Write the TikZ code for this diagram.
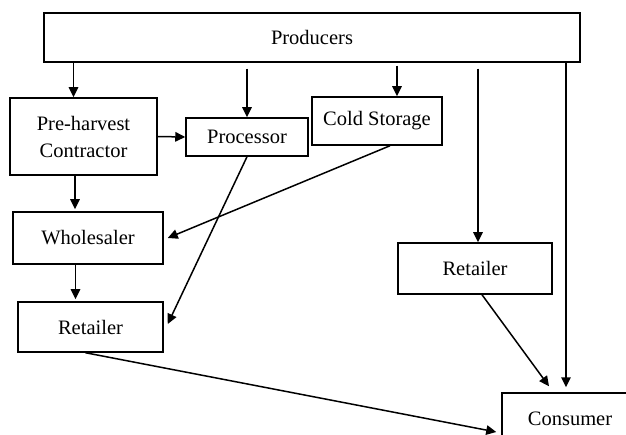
\documentclass[tikz,border=0pt]{standalone}
\usepackage{fontspec}
\setmainfont{Liberation Serif}
\usepackage{tikz}
\usetikzlibrary{arrows.meta}

\begin{document}
\begin{tikzpicture}[x=1pt, y=-1pt,
		box/.style={draw, line width=1.5pt, rectangle, inner sep=0pt, align=center, font=\fontsize{20.5}{27}\selectfont},
		flow/.style={line width=1.5pt, -{Triangle[length=10pt, width=9.5pt]}}]
		%%%%% START %%%%%
		
		\useasboundingbox (0, 0) rectangle (626, 435);
		
		\node[box, minimum width=536pt, minimum height=49pt] (prod) at (312, 37.5) {Producers};
		
		\node[box, minimum width=147pt, minimum height=77pt] (pre) at (83.5, 136.5) {Pre-harvest\\Contractor};
		\node[box, minimum width=122pt, minimum height=38pt] (proc) at (247, 137) {Processor};
		\node[box, minimum width=130pt, minimum height=48pt] (cold) at (377, 121) {Cold Storage};
		
		\node[box, minimum width=150pt, minimum height=52pt] (whole) at (88, 238) {Wholesaler};
		\node[box, minimum width=145pt, minimum height=50pt] (retL) at (90.5, 327) {Retailer};
		
		\node[box, minimum width=154pt, minimum height=51pt] (retR) at (475, 268.5) {Retailer};
		\node[box, minimum width=136pt, minimum height=52pt] (cons) at (570, 419) {Consumer};
		
		% from producers
		\draw[flow] ([xshift=-10pt]pre.north |- prod.south) -- ([xshift=-10pt]pre.north);
		\draw[flow, shorten <=6pt] (proc.north |- prod.south) -- (proc.north);
		\draw[flow, shorten <=3pt] ([xshift=20pt]cold.north |- prod.south) -- ([xshift=20pt]cold.north);
		\draw[flow, shorten <=6pt] ([xshift=3pt]retR.north |- prod.south) -- ([xshift=3pt]retR.north);
		\draw[flow, shorten >=5pt] ([xshift=-4pt]cons.north |- prod.south) -- ([xshift=-4pt]cons.north);
		
		% left chain
		\draw[flow] (pre.east) -- (proc.west);
		\draw[flow, shorten >=2pt] ([xshift=-13pt]whole.north |- pre.south) -- ([xshift=-13pt]whole.north);
		\draw[flow, shorten >=2pt] ([xshift=-15pt]retL.north |- whole.south) -- ([xshift=-15pt]retL.north);
		
		% crossing lines
		\draw[flow] (proc.south) -- ([xshift=4pt, yshift=3pt]retL.east);
		\draw[flow] ([xshift=13pt]cold.south) -- ([xshift=4pt]whole.east);
		
		% to consumer
		\draw[flow] ([xshift=-5pt]retL.south) -- ([xshift=-5pt, yshift=-13pt]cons.west);
		\draw[flow] ([xshift=7pt]retR.south) -- ([xshift=-21pt, yshift=6pt]cons.north);
		
		%%%%% END %%%%%
	\end{tikzpicture}
\end{document}
